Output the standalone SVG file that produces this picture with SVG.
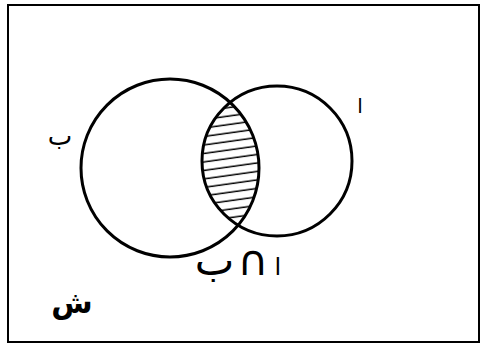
<svg xmlns="http://www.w3.org/2000/svg" width="482" height="345" viewBox="0 0 482 345">
<style>
.ring{fill:none;stroke:#000;stroke-width:3}
.lbl{font-family:"DejaVu Sans",sans-serif;fill:#000}
</style>
<defs>
<pattern id="hatch" patternUnits="userSpaceOnUse" width="20" height="8.4" patternTransform="rotate(-8)">
<line x1="0" y1="4" x2="20" y2="4" stroke="#000" stroke-width="1.5"/>
</pattern>
<clipPath id="clipA"><circle cx="277" cy="161" r="75"/></clipPath>
</defs>
<rect x="8" y="5" width="471" height="337" fill="#fff" stroke="#000" stroke-width="2"/>
<g id="intersection">
<g clip-path="url(#clipA)"><circle cx="170" cy="168" r="89" fill="url(#hatch)"/></g>
</g>
<g id="setB">
<circle class="ring" cx="170" cy="168" r="89"/>
<text class="lbl" x="60" y="145" font-size="26" text-anchor="middle">ب</text>
</g>
<g id="setA">
<circle class="ring" cx="277" cy="161" r="75"/>
<text class="lbl" x="360" y="113" font-size="20" text-anchor="middle">ا</text>
</g>
<g id="labelAB">
<text class="lbl" x="238" y="275" font-size="42" text-anchor="middle"><tspan font-size="24">ا</tspan><tspan font-size="20"> </tspan><tspan font-size="42">∩</tspan><tspan font-size="10"> </tspan>ب</text>
</g>
<g id="universe">
<text class="lbl" x="72" y="313" font-size="30" font-weight="bold" text-anchor="middle">ش</text>
</g>
</svg>
